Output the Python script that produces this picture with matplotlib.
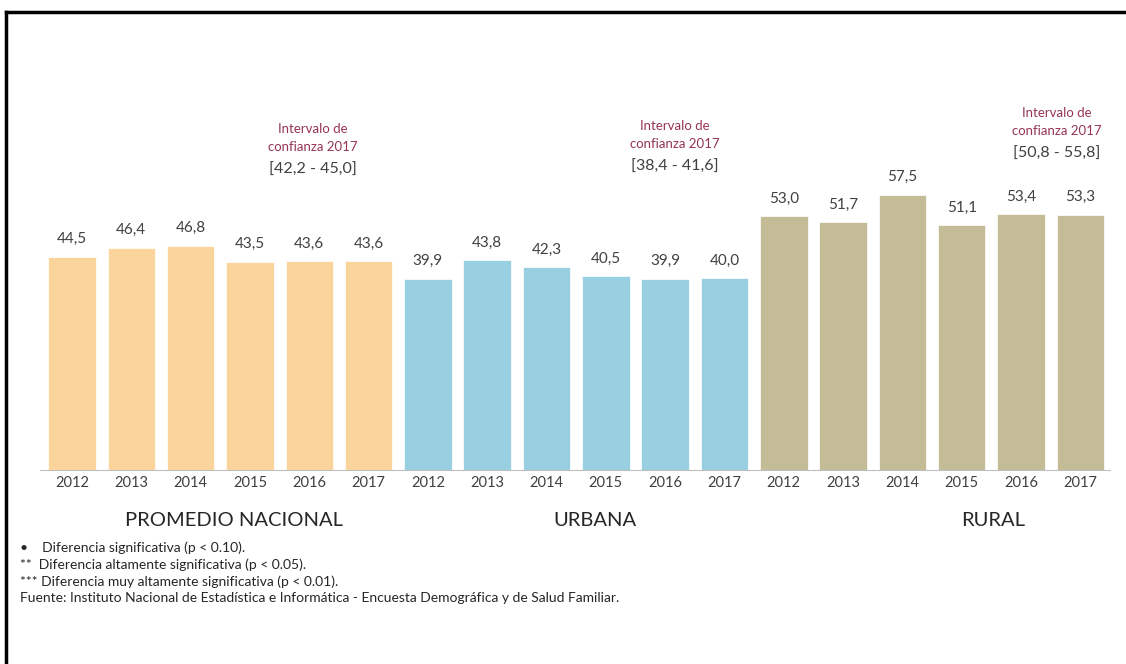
import matplotlib.pyplot as plt
from matplotlib.lines import Line2D

plt.rcParams['font.family'] = ['Lato', 'DejaVu Sans']

anios = ['2012', '2013', '2014', '2015', '2016', '2017']
grupos = ['PROMEDIO NACIONAL', 'URBANA', 'RURAL']
nacional = [44.5, 46.4, 46.8, 43.5, 43.6, 43.6]
urbana = [39.9, 43.8, 42.3, 40.5, 39.9, 40.0]
rural = [53.0, 51.7, 57.5, 51.1, 53.4, 53.3]
intervalos = ['[42,2 - 45,0]', '[38,4 - 41,6]', '[50,8 - 55,8]']
colores = ['#FBD49B', '#98CFE1', '#C4BC96']

notas = [
    '•    Diferencia significativa (p < 0.10).',
    '**  Diferencia altamente significativa (p < 0.05).',
    '*** Diferencia muy altamente significativa (p < 0.01).',
    'Fuente: Instituto Nacional de Estadística e Informática - Encuesta Demográfica y de Salud Familiar.',
]

fig = plt.figure(figsize=(11.26, 6.64), dpi=100)
ax = fig.add_axes([40 / 1126, (664 - 470) / 664, 1070 / 1126, 410 / 664])

series = [nacional, urbana, rural]
etiquetas = []
for g, valores in enumerate(series):
    xs = [g * 6 + i for i in range(6)]
    ax.bar(xs, valores, width=0.8, color=colores[g], edgecolor='white', linewidth=0.5)
    for x, v in zip(xs, valores):
        ax.text(x, v + 2.2, f'{v:.1f}'.replace('.', ','), ha='center', va='bottom',
                fontsize=11, color='#404040')
    etiquetas += anios

ax.set_xlim(-0.54, 17.5)
ax.set_ylim(0, 85.6)
ax.set_xticks(range(18))
ax.set_xticklabels(etiquetas, fontsize=10.5, color='#404040')
ax.tick_params(axis='x', length=0, pad=4)
ax.set_yticks([])
for s in ['top', 'right', 'left']:
    ax.spines[s].set_visible(False)
ax.spines['bottom'].set_color('#BFBFBF')

# intervalos de confianza
pos_int = [(313, 129), (675, 126), (1057, 113)]
for (px, py), txt in zip(pos_int, intervalos):
    fig.text(px / 1126, 1 - py / 664, 'Intervalo de', ha='center', va='center',
             fontsize=9.5, color='#953553')
    fig.text(px / 1126, 1 - (py + 18) / 664, 'confianza 2017', ha='center', va='center',
             fontsize=9.5, color='#953553')
    fig.text(px / 1126, 1 - (py + 41) / 664, txt, ha='center', va='center',
             fontsize=11.5, color='#404040')

# nombres de los grupos
for px, nombre in zip([234, 595, 993], grupos):
    fig.text(px / 1126, 1 - 521 / 664, nombre, ha='center', va='center',
             fontsize=14.5, color='#262626')

for i, nota in enumerate(notas):
    fig.text(20 / 1126, 1 - (548 + i * 16.7) / 664, nota, ha='left', va='center',
             fontsize=10, color='#262626')

# marco
fig.add_artist(Line2D([6 / 1126, 1], [1 - 12 / 664, 1 - 12 / 664], color='black', lw=2.5))
fig.add_artist(Line2D([6 / 1126, 6 / 1126], [0, 1 - 12 / 664], color='black', lw=2.5))

fig.savefig('out.png', dpi=100)
